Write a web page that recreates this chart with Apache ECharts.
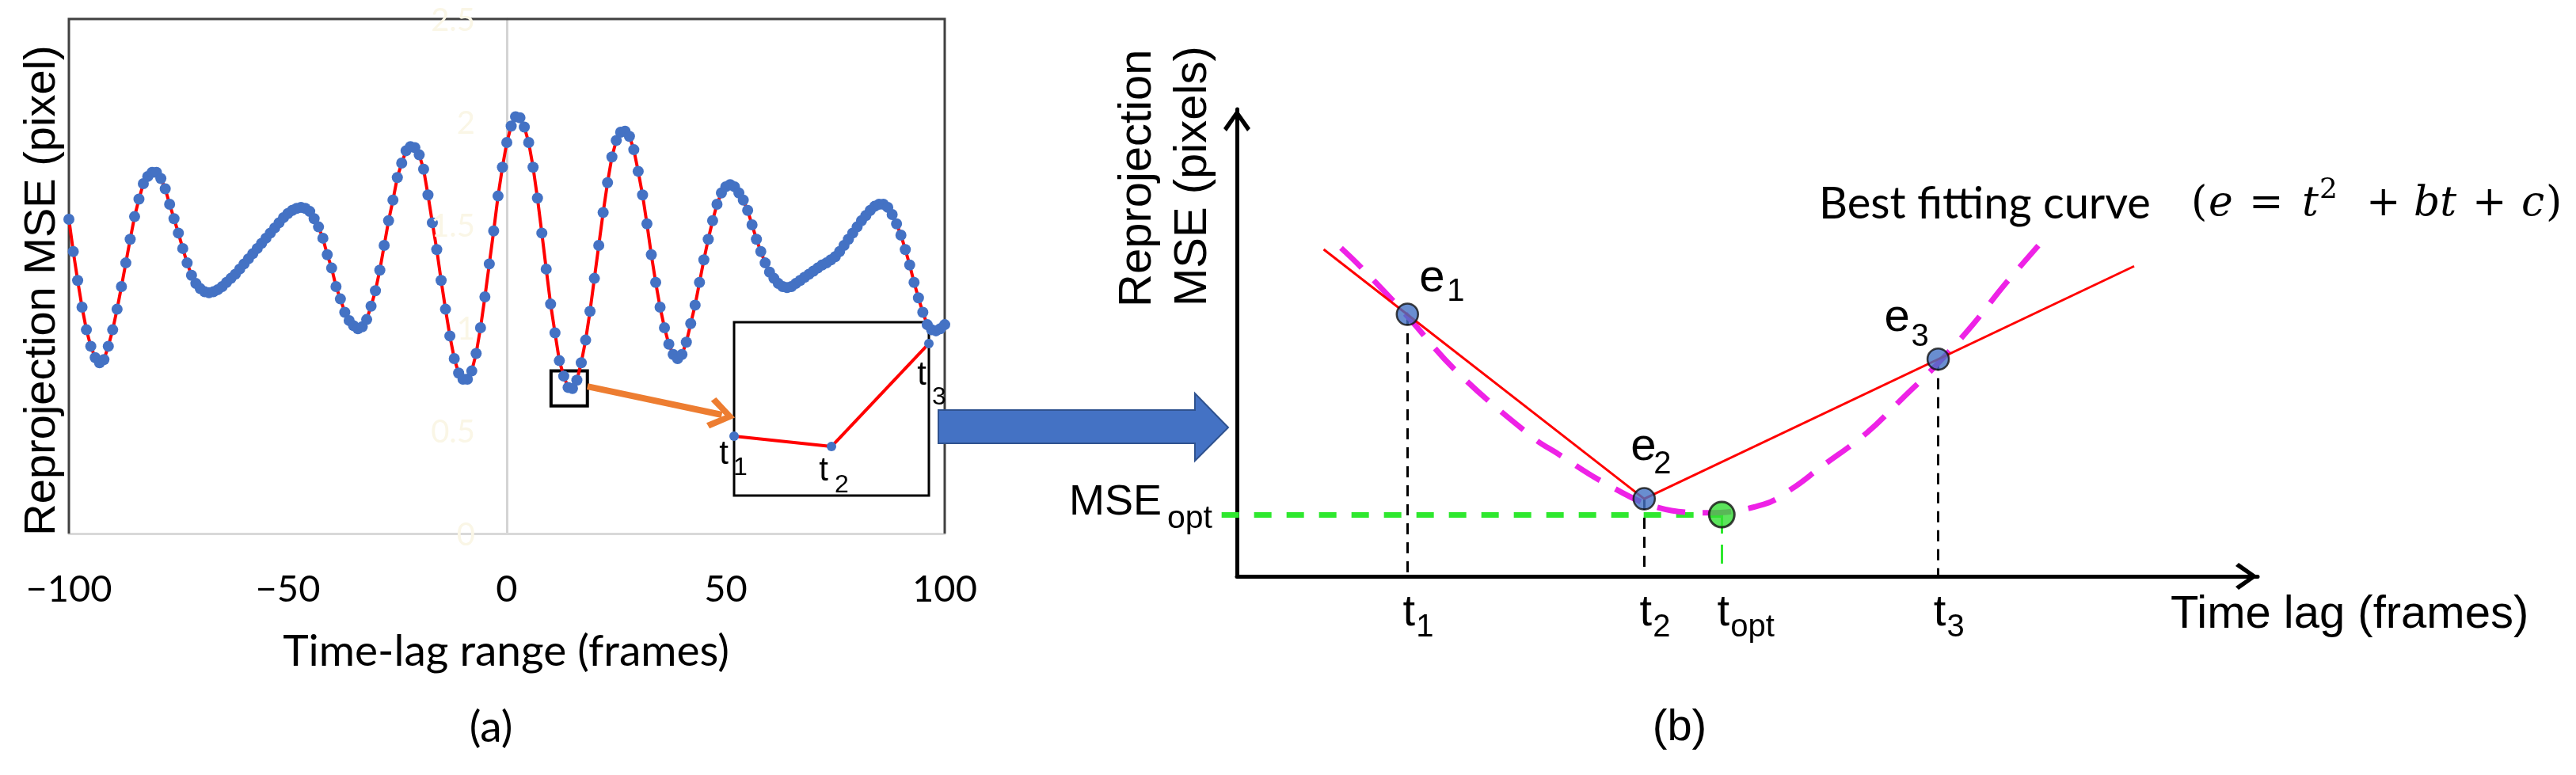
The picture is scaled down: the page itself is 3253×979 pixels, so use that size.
<!DOCTYPE html>
<html><head><meta charset="utf-8">
<script src="https://cdn.jsdelivr.net/npm/echarts@6/dist/echarts.min.js"></script>
<style>html,body{margin:0;padding:0;background:#fff}#c{width:3253px;height:979px}</style>
</head><body><div id="c"></div>
<script>
// ---------- Panel (a): reprojection MSE vs time lag ----------
const startFrame = -100;
const mseValues = [
 1.527,1.37,1.23,1.10,0.99,0.91,0.855,0.83,0.845,0.91,
 0.99,1.09,1.20,1.315,1.43,1.54,1.625,1.70,1.735,1.755,
 1.755,1.725,1.675,1.60,1.53,1.46,1.385,1.315,1.255,1.215,
 1.19,1.175,1.17,1.175,1.185,1.20,1.22,1.24,1.26,1.285,
 1.31,1.335,1.36,1.385,1.41,1.435,1.46,1.485,1.51,1.535,
 1.555,1.57,1.58,1.585,1.58,1.565,1.53,1.49,1.435,1.355,
 1.29,1.20,1.14,1.075,1.035,1.01,0.995,1.005,1.04,1.105,
 1.18,1.28,1.40,1.52,1.62,1.73,1.80,1.86,1.88,1.875,
 1.84,1.77,1.645,1.51,1.38,1.23,1.09,0.96,0.85,0.78,
 0.75,0.75,0.79,0.875,1.0,1.15,1.31,1.47,1.64,1.78,
 1.90,1.98,2.025,2.02,1.975,1.90,1.78,1.63,1.46,1.285,
 1.115,0.975,0.84,0.765,0.71,0.705,0.745,0.83,0.94,1.08,
 1.24,1.40,1.56,1.705,1.83,1.91,1.95,1.955,1.93,1.865,
 1.76,1.645,1.505,1.355,1.22,1.10,1.00,0.92,0.87,0.85,
 0.87,0.93,1.02,1.11,1.22,1.33,1.43,1.52,1.60,1.655,
 1.685,1.695,1.685,1.655,1.62,1.57,1.50,1.43,1.37,1.315,
 1.27,1.24,1.215,1.20,1.195,1.20,1.215,1.23,1.245,1.26,
 1.275,1.29,1.305,1.315,1.33,1.345,1.37,1.40,1.43,1.46,
 1.49,1.52,1.545,1.57,1.59,1.60,1.60,1.585,1.55,1.505,
 1.45,1.38,1.305,1.22,1.145,1.075,1.015,0.99,0.985,0.995,
 1.015
];
const xTicksA = [-100, -50, 0, 50, 100];
const yTicksA = [0, 0.5, 1, 1.5, 2, 2.5];
const zoomBox = [[10.1, 0.79], [18.4, 0.62]];
const zoomArrow = [[18.4, 0.715], [49.1, 0.577]];

// inset (zoomed three samples)
const insetT = [0, 50, 100];
const insetE = [34.2, 28.3, 87.7];
const insetNames = ['1', '2', '3'];

// ---------- Panel (b): schematic ----------
const bNames = ['1', '2', 'opt', '3'];
const bTimes = [16.7, 39.9, 47.5, 68.7];
const sampleT = [16.7, 39.9, 68.7];
const sampleE = [56.1, 16.6, 46.5];
const sampleNames = ['1', '2', '3'];
const optT = 47.5, optE = 13.2;
const linearT = [8.5, 39.9, 87.9];
const linearE = [70.0, 16.6, 66.4];
const curveT = [10.2,12.1,16.4,21.6,29.0,31.4,36.0,41.0,46.1,51.6,54.4,57.1,61.7,65.2,68.6,72.1,75.2,79.0];
const curveE = [70.3,66.3,56.4,43.7,29.7,26.3,20.0,14.9,13.6,15.4,18.8,23.2,30.7,38.1,45.4,53.9,62.4,72.0];

const mseData = mseValues.map((v, i) => [startFrame + i, v]);
const SANS = 'Liberation Sans';
const CAL = 'Lato';
const SER = 'DejaVu Serif';
const chevron = 'path://M17,0 L34,24 L30,28 L17,9 L4,28 L0,24 Z';
const orangeHead = 'path://M20,0 L40,26 L34,31 L20,12 L6,31 L0,26 Z';

const chart = echarts.init(document.getElementById('c'), null, {renderer: 'canvas'});
const hidden = {show: false};
const option = {
  animation: false,
  backgroundColor: '#fff',
  grid: [
    {left: 87, top: 24, width: 1106, height: 650, show: false},
    {left: 1562, top: 138, width: 1289, height: 590, show: false},
    {left: 927, top: 407, width: 246, height: 219, show: true, borderColor: '#000', borderWidth: 3, backgroundColor: 'transparent'}
  ],
  xAxis: [
    {gridIndex: 0, type: 'value', min: -100, max: 100, interval: 50,
     axisLine: {show: true, onZero: false, lineStyle: {color: '#d9d9d9', width: 3}},
     axisTick: hidden, splitLine: hidden,
     axisLabel: {fontFamily: CAL, fontSize: 47, color: '#000', margin: 47,
       customValues: xTicksA,
       formatter: v => v < 0 ? '\u2212' + Math.abs(v) : String(v)}},
    {gridIndex: 1, type: 'value', min: 0, max: 100,
     axisLine: {show: true, onZero: false, symbol: ['none', chevron], symbolSize: [34, 28], symbolOffset: [0, -14],
       lineStyle: {color: '#000', width: 5}},
     axisTick: hidden, splitLine: hidden, axisLabel: hidden},
    {gridIndex: 2, type: 'value', min: 0, max: 100, show: false}
  ],
  yAxis: [
    {gridIndex: 0, type: 'value', min: 0, max: 2.5, interval: 0.5,
     axisLine: {show: true, onZero: true, lineStyle: {color: '#d4d4d4', width: 3}},
     axisTick: hidden, splitLine: hidden, axisLabel: hidden},
    {gridIndex: 1, type: 'value', min: 0, max: 100,
     axisLine: {show: true, onZero: false, symbol: ['none', chevron], symbolSize: [34, 28], symbolOffset: [0, -14],
       lineStyle: {color: '#000', width: 5}},
     axisTick: hidden, splitLine: hidden, axisLabel: hidden},
    {gridIndex: 2, type: 'value', min: 0, max: 100, show: false}
  ],
  series: [
    {type: 'line', xAxisIndex: 0, yAxisIndex: 0, data: mseData, clip: false, z: 3,
     lineStyle: {color: '#ff0000', width: 4}, symbol: 'circle', symbolSize: 14,
     itemStyle: {color: '#4472C4'},
     markArea: {silent: true, itemStyle: {color: 'rgba(0,0,0,0)', borderColor: '#000', borderWidth: 4},
       data: [[{coord: zoomBox[0]}, {coord: zoomBox[1]}]]},
     markLine: {silent: true, symbol: ['none', orangeHead], symbolSize: [40, 34], label: hidden,
       lineStyle: {color: '#ED7D31', width: 8, type: 'solid'},
       data: [[{coord: zoomArrow[0]}, {coord: zoomArrow[1]}]]}},
    {type: 'line', xAxisIndex: 2, yAxisIndex: 2, data: insetT.map((t, i) => [t, insetE[i]]), clip: false, z: 4,
     lineStyle: {color: '#ff0000', width: 4}, symbol: 'circle', symbolSize: 12, itemStyle: {color: '#4472C4'}},
    {type: 'line', xAxisIndex: 1, yAxisIndex: 1, data: linearT.map((t, i) => [t, linearE[i]]), symbol: 'none',
     lineStyle: {color: '#ff0000', width: 3}, z: 3},
    {type: 'line', xAxisIndex: 1, yAxisIndex: 1, data: curveT.map((t, i) => [t, curveE[i]]), symbol: 'none', smooth: 0.4,
     lineStyle: {color: '#EE22E6', width: 7, type: [36, 22]}, z: 2},
    {type: 'lines', coordinateSystem: 'cartesian2d', xAxisIndex: 1, yAxisIndex: 1, clip: false, z: 2,
     lineStyle: {color: '#000', width: 3, type: [14, 10], opacity: 1},
     data: sampleT.map((t, i) => ({coords: [[t, sampleE[i]], [t, 0]]}))},
    {type: 'lines', coordinateSystem: 'cartesian2d', xAxisIndex: 1, yAxisIndex: 1, clip: false, z: 2,
     lineStyle: {color: '#2EE82E', width: 7, type: [22, 19], opacity: 1},
     data: [{coords: [[-1.5, optE], [optT, optE]]}]},
    {type: 'lines', coordinateSystem: 'cartesian2d', xAxisIndex: 1, yAxisIndex: 1, clip: false, z: 2,
     lineStyle: {color: '#2EE82E', width: 3, type: [24, 14], opacity: 1},
     data: [{coords: [[optT, optE], [optT, 2.5]]}]},
    {type: 'scatter', xAxisIndex: 1, yAxisIndex: 1, data: sampleT.map((t, i) => [t, sampleE[i]]), symbolSize: 27, z: 5,
     itemStyle: {color: '#4472C4', borderColor: '#111', borderWidth: 2.5}},
    {type: 'scatter', xAxisIndex: 1, yAxisIndex: 1, data: [[optT, optE]], symbolSize: 32, z: 5,
     itemStyle: {color: '#33DD33', borderColor: '#111', borderWidth: 3}}
  ]
};
chart.setOption(option);

// ---------- annotations positioned through the chart's own scales ----------
const P = (g, pt) => chart.convertToPixel({gridIndex: g}, pt);
const G = [];
function T(x, y, text, size, family, align, extra) {
  const el = {type: 'text', x: x, y: y, silent: true, z: 20,
    style: Object.assign({text: text, fontSize: size, fontFamily: family, fill: '#000',
      align: align || 'center', verticalAlign: 'middle'}, (extra && extra.style) || {})};
  if (extra && extra.rotation != null) el.rotation = extra.rotation;
  G.push(el);
}
// frame of panel (a): dark left/top/right sides (bottom is the light axis line)
const aBL = P(0, [-100, 0]), aTR = P(0, [100, 2.5]);
G.push({type: 'polyline', silent: true, z: 1,
  shape: {points: [[aBL[0], aBL[1]], [aBL[0], aTR[1]], [aTR[0], aTR[1]], [aTR[0], aBL[1]]]},
  style: {stroke: '#404040', lineWidth: 3, fill: null}});
// barely visible y tick labels beside the zero line (as in the original)
yTicksA.forEach(v => {
  const p = P(0, [0, v]);
  T(p[0] - 40, p[1] + 2, String(v), 40, CAL, 'right', {style: {fill: '#faf6e6'}});
});
// panel (a) texts
T(54, 367, 'Reprojection MSE (pixel)', 56, SANS, 'center', {rotation: Math.PI / 2});
T(639, 823, 'Time-lag range (frames)', 55, CAL, 'center');
T(620, 919, '(a)', 55, CAL, 'center');
const insetOff = [[-13, 23, -1, 40], [-10, 31, 4, 49], [-9, 40, 4, 68]];
insetT.forEach((t, i) => {
  const p = P(2, [t, insetE[i]]);
  const o = insetOff[i];
  T(p[0] + o[0], p[1] + o[1], 't', 42, SANS, 'center');
  T(p[0] + o[2], p[1] + o[3], insetNames[i], 32, SANS, 'left');
});
// big blue arrow between panels
G.push({type: 'polygon', silent: true, z: 15,
  shape: {points: [[1185, 518], [1509, 518], [1509, 497], [1551, 540], [1509, 582], [1509, 560], [1185, 560]]},
  style: {fill: '#4472C4', stroke: '#2F528F', lineWidth: 2}});
// panel (b) texts
T(1437, 388, 'Reprojection', 58, SANS, 'left', {rotation: Math.PI / 2});
T(1507, 387, 'MSE (pixels)', 58, SANS, 'left', {rotation: Math.PI / 2});
T(2741, 777, 'Time lag (frames)', 58, SANS, 'left');
T(2121, 920, '(b)', 56, SANS, 'center');
bTimes.forEach((t, i) => {
  const p = P(1, [t, 0]);
  T(p[0] + 2, p[1] + 47, 't', 56, SANS, 'center');
  T(p[0] + 11, p[1] + 65, bNames[i], 40, SANS, 'left');
});
const eOff = [[31, -45, 50, -28], [-1, -65, 12, -43], [-52, -52, -34, -28]];
sampleT.forEach((t, i) => {
  const p = P(1, [t, sampleE[i]]);
  const o = eOff[i];
  T(p[0] + o[0], p[1] + o[1], 'e', 58, SANS, 'center');
  T(p[0] + o[2], p[1] + o[3], sampleNames[i], 40, SANS, 'left');
});
const po = P(1, [0, optE]);
T(po[0] - 95, po[1] - 15, 'MSE', 54, SANS, 'right');
T(po[0] - 88, po[1] + 6, 'opt', 41, SANS, 'left');
// "Best fitting curve (e = t^2 + bt + c)"
T(2297, 258, 'Best fitting curve', 56, CAL, 'left');
const eqGlyphs = [
  ['(', 2767, false], ['e', 2789, true], ['=', 2840, false], ['t', 2907, true],
  ['+', 2988, false], ['bt', 3048, true], ['+', 3122, false], ['c', 3184, true], [')', 3215, false]
];
eqGlyphs.forEach(g => T(g[1], 258, g[0], 52, SER, 'left', {style: {fontStyle: g[2] ? 'italic' : 'normal'}}));
T(2929, 241, '2', 36, SER, 'left');
chart.setOption({graphic: G});
</script>
</body></html>
